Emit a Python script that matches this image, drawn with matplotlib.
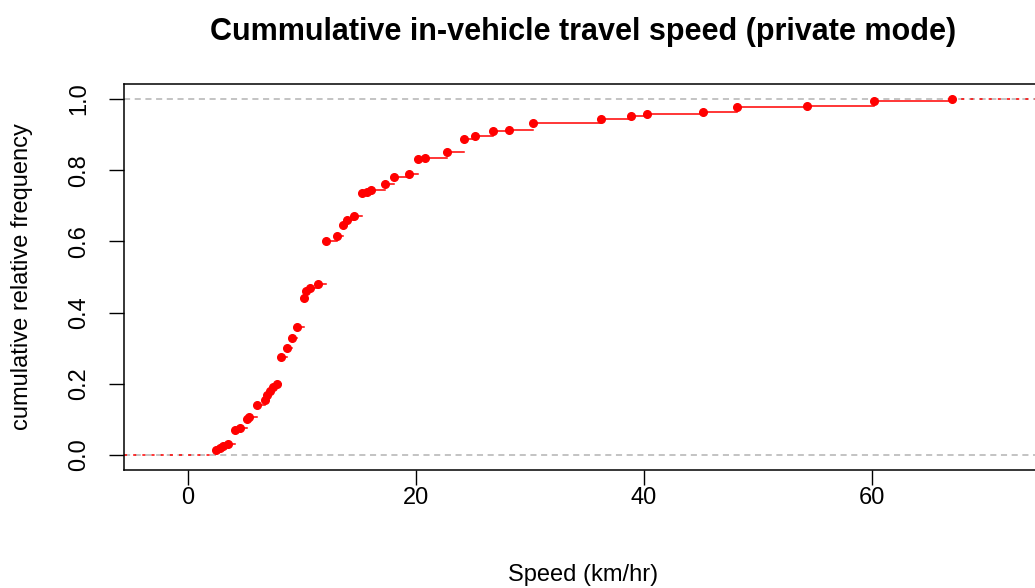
import matplotlib
matplotlib.use('Agg')
import matplotlib.pyplot as plt

plt.rcParams['font.family'] = ['Liberation Sans', 'DejaVu Sans']

# speeds (km/hr) where the ecdf jumps, and the cumulative frequency after each jump
speed = [2.5, 2.8, 3.1, 3.5, 4.1, 4.6, 5.2, 5.4, 6.1, 6.8, 6.9, 7.2, 7.5, 7.8,
         8.2, 8.7, 9.1, 9.6, 10.2, 10.4, 10.7, 11.4, 12.1, 13.1, 13.6, 14.0, 14.6,
         15.3, 15.7, 16.1, 17.3, 18.1, 19.4, 20.2, 20.8, 22.7, 24.2, 25.2, 26.8,
         28.2, 30.3, 36.2, 38.9, 40.3, 45.2, 48.2, 54.3, 60.2, 67.0]
cumfreq = [0.014, 0.02, 0.025, 0.03, 0.07, 0.075, 0.10, 0.107, 0.14, 0.155, 0.17,
           0.18, 0.19, 0.20, 0.275, 0.30, 0.33, 0.36, 0.44, 0.46, 0.47, 0.48, 0.60,
           0.615, 0.645, 0.66, 0.67, 0.735, 0.74, 0.745, 0.76, 0.78, 0.79, 0.83,
           0.835, 0.85, 0.888, 0.896, 0.91, 0.913, 0.933, 0.944, 0.952, 0.957,
           0.964, 0.978, 0.98, 0.994, 1.0]

xmin, xmax = -5.6, 75.0

fig = plt.figure(figsize=(10.35, 5.88), dpi=100)
ax = fig.add_axes([124 / 1035, 1 - 470 / 588, (1043 - 124) / 1035, (470 - 84) / 588])

# gray reference lines at 0 and 1
ax.axhline(0, color='#b3b3b3', linestyle=(0, (4, 3)), linewidth=1.1, zorder=1)
ax.axhline(1, color='#b3b3b3', linestyle=(0, (4, 3)), linewidth=1.1, zorder=1)

# horizontal steps
for i in range(len(speed) - 1):
    ax.plot([speed[i], speed[i + 1]], [cumfreq[i], cumfreq[i]], color='red', linewidth=1.1, zorder=2)
# extensions outside data range
ax.plot([xmin, speed[0]], [0, 0], color='red', linestyle=(0, (2, 4)), linewidth=1.1, zorder=2)
ax.plot([speed[-1], xmax], [1, 1], color='red', linestyle=(0, (2, 4)), linewidth=1.1, zorder=2)

ax.plot(speed, cumfreq, 'o', color='red', markersize=5.5, zorder=3)

ax.set_xlim(xmin, xmax)
ax.set_ylim(-0.042, 1.042)
ax.set_xticks([0, 20, 40, 60])
ax.set_yticks([0.0, 0.2, 0.4, 0.6, 0.8, 1.0])
ax.set_yticklabels(['0.0', '0.2', '0.4', '0.6', '0.8', '1.0'], rotation=90, va='center')
ax.tick_params(direction='out', length=10.5, width=1, labelsize=17)
ax.tick_params(axis='x', pad=2)
ax.tick_params(axis='y', pad=14)
ax.spines['right'].set_visible(False)
for s in ['left', 'top', 'bottom']:
    ax.spines[s].set_linewidth(1.1)

ax.set_xlabel('Speed (km/hr)', fontsize=17, labelpad=39)
ax.set_ylabel('cumulative relative frequency', fontsize=17, labelpad=25)
ax.set_title('Cummulative in-vehicle travel speed (private mode)', fontsize=22,
             fontweight='bold', pad=32)

fig.savefig('out.png', dpi=100)
